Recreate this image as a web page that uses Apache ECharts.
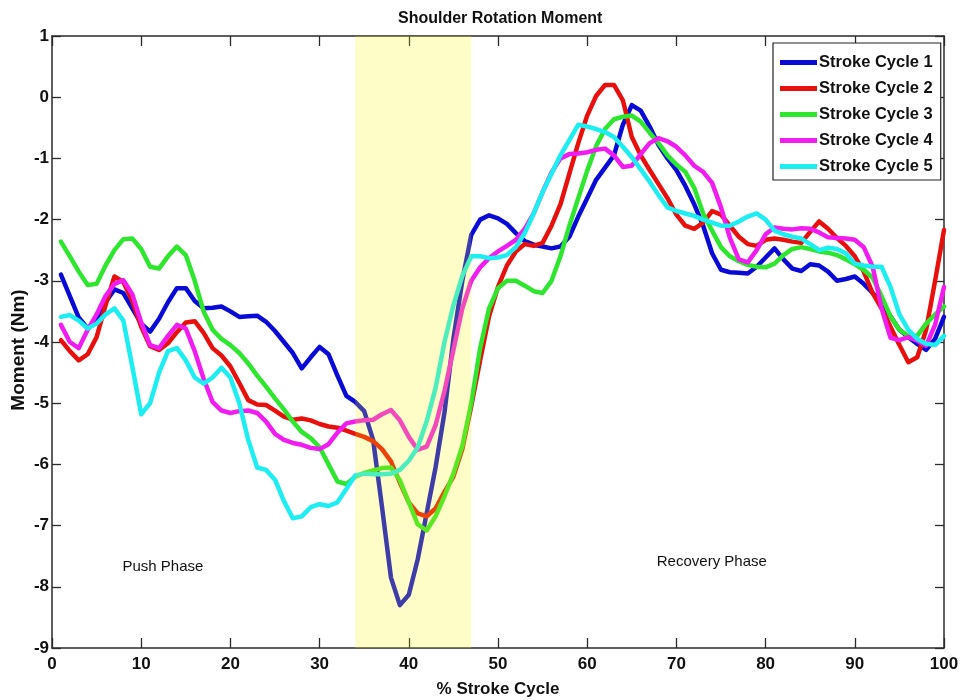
<!DOCTYPE html>
<html>
<head>
<meta charset="utf-8">
<script src="https://cdn.jsdelivr.net/npm/echarts@6/dist/echarts.min.js"></script>
<style>
  html, body { margin: 0; padding: 0; background: #fff; }
  #chart { width: 960px; height: 700px; }
</style>
</head>
<body>
<div id="chart"></div>
<script>
// Percent of stroke cycle sampled at each whole percent
const pctCycle = Array.from({ length: 100 }, (_, i) => i + 1);

const seriesNames = ['Stroke Cycle 1', 'Stroke Cycle 2', 'Stroke Cycle 3', 'Stroke Cycle 4', 'Stroke Cycle 5'];

// Shoulder rotation moment (Nm) per stroke cycle
const cycle1 = [
  -2.90, -3.25, -3.60, -3.78, -3.62, -3.35, -3.14, -3.20, -3.45, -3.70,
  -3.83, -3.62, -3.35, -3.12, -3.12, -3.33, -3.45, -3.44, -3.42, -3.50,
  -3.59, -3.58, -3.57, -3.67, -3.82, -4.00, -4.18, -4.43, -4.25, -4.08,
  -4.20, -4.55, -4.88, -4.98, -5.13, -5.60, -6.70, -7.85, -8.30, -8.13,
  -7.55, -6.80, -6.05, -5.15, -3.95, -3.00, -2.25, -2.00, -1.93, -1.98,
  -2.07, -2.22, -2.35, -2.41, -2.44, -2.47, -2.44, -2.28, -1.95, -1.65,
  -1.35, -1.15, -0.95, -0.45, -0.13, -0.22, -0.48, -0.78, -1.00, -1.19,
  -1.45, -1.75, -2.10, -2.55, -2.82, -2.86, -2.87, -2.88, -2.77, -2.62,
  -2.47, -2.65, -2.80, -2.84, -2.73, -2.75, -2.85, -3.00, -2.97, -2.93,
  -3.05, -3.20, -3.35, -3.58, -3.80, -3.92, -4.03, -4.13, -3.95, -3.59
];
const cycle2 = [
  -3.97, -4.15, -4.30, -4.20, -3.92, -3.40, -2.93, -3.02, -3.33, -3.75,
  -4.07, -4.13, -4.02, -3.84, -3.68, -3.66, -3.85, -4.10, -4.22, -4.40,
  -4.67, -4.95, -5.02, -5.03, -5.12, -5.22, -5.27, -5.25, -5.28, -5.34,
  -5.38, -5.40, -5.45, -5.50, -5.55, -5.62, -5.75, -5.95, -6.30, -6.62,
  -6.80, -6.85, -6.72, -6.45, -6.20, -5.75, -5.05, -4.30, -3.58, -3.10,
  -2.75, -2.52, -2.40, -2.43, -2.38, -2.10, -1.75, -1.25, -0.75, -0.30,
   0.02,  0.20,  0.20, -0.05, -0.65, -0.95, -1.19, -1.42, -1.65, -1.92,
  -2.10, -2.15, -2.05, -1.86, -1.92, -2.10, -2.28, -2.40, -2.43, -2.33,
  -2.31, -2.33, -2.36, -2.38, -2.20, -2.03, -2.15, -2.30, -2.43, -2.60,
  -2.85, -3.20, -3.45, -3.75, -4.05, -4.33, -4.25, -3.80, -3.00, -2.17
];
const cycle3 = [
  -2.36, -2.60, -2.85, -3.07, -3.05, -2.75, -2.50, -2.32, -2.31, -2.48,
  -2.77, -2.80, -2.60, -2.44, -2.58, -3.00, -3.50, -3.80, -3.95, -4.05,
  -4.18, -4.35, -4.55, -4.73, -4.92, -5.10, -5.30, -5.47, -5.57, -5.72,
  -6.00, -6.28, -6.32, -6.20, -6.14, -6.10, -6.06, -6.05, -6.26, -6.62,
  -6.98, -7.08, -6.85, -6.52, -6.15, -5.70, -5.00, -4.10, -3.45, -3.12,
  -3.00, -3.00, -3.08, -3.17, -3.20, -3.00, -2.60, -2.10, -1.65, -1.20,
  -0.80, -0.52, -0.36, -0.32, -0.30, -0.40, -0.58, -0.75, -0.95, -1.10,
  -1.22, -1.48, -1.90, -2.18, -2.45, -2.60, -2.68, -2.74, -2.77, -2.78,
  -2.72, -2.58, -2.48, -2.45, -2.48, -2.52, -2.54, -2.58, -2.65, -2.73,
  -2.82, -2.95, -3.25, -3.58, -3.80, -3.90, -3.90, -3.70, -3.55, -3.42
];
const cycle4 = [
  -3.72, -4.00, -4.10, -3.80, -3.55, -3.25, -3.05, -2.99, -3.22, -3.68,
  -4.05, -4.10, -3.90, -3.72, -3.78, -4.15, -4.60, -4.98, -5.12, -5.16,
  -5.13, -5.12, -5.16, -5.30, -5.50, -5.60, -5.65, -5.68, -5.73, -5.75,
  -5.67, -5.48, -5.33, -5.30, -5.28, -5.27, -5.18, -5.11, -5.28, -5.55,
  -5.76, -5.71, -5.36, -4.80, -4.13, -3.45, -3.00, -2.78, -2.63, -2.52,
  -2.43, -2.33, -2.15, -1.90, -1.55, -1.23, -1.00, -0.93, -0.92, -0.90,
  -0.86, -0.84, -0.95, -1.14, -1.12, -0.93, -0.75, -0.67, -0.72, -0.81,
  -0.95, -1.12, -1.22, -1.40, -1.80, -2.30, -2.65, -2.70, -2.50, -2.24,
  -2.13, -2.15, -2.16, -2.14, -2.15, -2.21, -2.29, -2.30, -2.31, -2.33,
  -2.45, -2.77, -3.45, -3.93, -3.97, -3.92, -3.98, -4.06, -3.72, -3.10
];
const cycle5 = [
  -3.59, -3.56, -3.65, -3.78, -3.70, -3.55, -3.45, -3.65, -4.40, -5.18,
  -5.00, -4.50, -4.15, -4.10, -4.30, -4.58, -4.68, -4.58, -4.42, -4.58,
  -5.00, -5.60, -6.05, -6.09, -6.25, -6.60, -6.88, -6.85, -6.70, -6.65,
  -6.68, -6.62, -6.40, -6.18, -6.15, -6.16, -6.16, -6.15, -6.09, -5.94,
  -5.72, -5.30, -4.75, -4.00, -3.40, -2.92, -2.60, -2.60, -2.63, -2.62,
  -2.58, -2.45, -2.22, -1.90, -1.55, -1.25, -0.95, -0.70, -0.45, -0.48,
  -0.52, -0.57, -0.65, -0.81, -0.98, -1.18, -1.38, -1.60, -1.80, -1.86,
  -1.90, -1.94, -2.00, -2.05, -2.10, -2.10, -2.03, -1.95, -1.90, -2.00,
  -2.18, -2.24, -2.28, -2.31, -2.40, -2.50, -2.46, -2.48, -2.55, -2.72,
  -2.75, -2.77, -2.77, -3.10, -3.55, -3.80, -3.95, -4.03, -4.05, -3.90
];
const cycleValues = [cycle1, cycle2, cycle3, cycle4, cycle5];
const cycleColors = ['#0a0ad6', '#e8100c', '#2ee62e', '#f01cf0', '#1ceef2'];

// Transition window between push and recovery (% stroke cycle)
const transitionStart = 34;
const transitionEnd = 47;

// Phase annotations
const phaseLabels = ['Push Phase', 'Recovery Phase'];
const phaseX = [7.9, 67.8];
const phaseY = [-7.67, -7.6];

const FONT = '"Liberation Sans", Arial, sans-serif';
const AXIS_COLOR = '#2a2a2a';

const chart = echarts.init(document.getElementById('chart'), null, { renderer: 'canvas' });

const lineSeries = seriesNames.map((name, k) => ({
  name: name,
  type: 'line',
  data: pctCycle.map((x, i) => [x, cycleValues[k][i]]),
  showSymbol: false,
  smooth: false,
  color: cycleColors[k],
  lineStyle: { width: 4.5, color: cycleColors[k], join: 'round', cap: 'round' },
  z: 2 + k,
  animation: false
}));

// Translucent band laid over the curves, plus phase captions
const overlaySeries = {
  name: 'transition',
  type: 'line',
  data: [],
  z: 20,
  silent: true,
  animation: false,
  markArea: {
    silent: true,
    z: 30,
    itemStyle: { color: 'rgba(250, 240, 0, 0.22)' },
    data: [[{ xAxis: transitionStart }, { xAxis: transitionEnd }]]
  },
  markPoint: {
    silent: true,
    symbol: 'circle',
    symbolSize: 0,
    label: {
      show: true,
      position: 'right',
      distance: 0,
      color: '#111',
      fontFamily: FONT,
      fontSize: 15,
      formatter: p => p.name
    },
    data: phaseLabels.map((t, i) => ({ name: t, coord: [phaseX[i], phaseY[i]] }))
  }
};

const option = {
  backgroundColor: '#ffffff',
  animation: false,
  title: {
    text: 'Shoulder Rotation Moment',
    left: 393,
    top: 6,
    textStyle: { fontFamily: FONT, fontWeight: 'bold', fontSize: 16, color: '#111' }
  },
  legend: {
    data: seriesNames,
    orient: 'vertical',
    left: 773,
    top: 43,
    padding: [11, 8, 5, 7],
    itemGap: 9,
    itemWidth: 37,
    itemHeight: 5,
    icon: 'rect',
    backgroundColor: '#fff',
    borderColor: '#222',
    borderWidth: 1.2,
    borderRadius: 0,
    selectedMode: false,
    textStyle: { fontFamily: FONT, fontWeight: 'bold', fontSize: 16.5, color: '#111', padding: [0, 0, 0, -3] }
  },
  grid: { left: 52, right: 16, top: 36, bottom: 52, containLabel: false, outerBoundsMode: 'none' },
  xAxis: [
    {
      type: 'value',
      min: 0, max: 100, interval: 10,
      name: '% Stroke Cycle',
      nameLocation: 'middle',
      nameGap: 33,
      nameMoveOverlap: false,
      nameTextStyle: { fontFamily: FONT, fontWeight: 'bold', fontSize: 17, color: '#111' },
      axisLine: { show: true, onZero: false, lineStyle: { color: AXIS_COLOR, width: 1.5 } },
      axisTick: { show: true, inside: true, length: 10, lineStyle: { color: AXIS_COLOR, width: 1.3 } },
      axisLabel: { fontFamily: FONT, fontWeight: 'bold', fontSize: 17, color: '#111', margin: 8 },
      splitLine: { show: false }
    },
    {
      type: 'value',
      position: 'top',
      min: 0, max: 100, interval: 10,
      axisLine: { show: true, onZero: false, lineStyle: { color: AXIS_COLOR, width: 1.5 } },
      axisTick: { show: true, inside: true, length: 10, lineStyle: { color: AXIS_COLOR, width: 1.3 } },
      axisLabel: { show: false },
      splitLine: { show: false }
    }
  ],
  yAxis: [
    {
      type: 'value',
      min: -9, max: 1, interval: 1,
      name: 'Moment (Nm)',
      nameLocation: 'middle',
      nameGap: 24,
      nameMoveOverlap: false,
      nameRotate: 90,
      nameTextStyle: { fontFamily: FONT, fontWeight: 'bold', fontSize: 19, color: '#111', padding: [0, 16, 0, 0] },
      axisLine: { show: true, onZero: false, lineStyle: { color: AXIS_COLOR, width: 1.5 } },
      axisTick: { show: true, inside: true, length: 9, lineStyle: { color: AXIS_COLOR, width: 1.3 } },
      axisLabel: { fontFamily: FONT, fontWeight: 'bold', fontSize: 17, color: '#111', margin: 3 },
      splitLine: { show: false }
    },
    {
      type: 'value',
      position: 'right',
      min: -9, max: 1, interval: 1,
      axisLine: { show: true, onZero: false, lineStyle: { color: AXIS_COLOR, width: 1.5 } },
      axisTick: { show: true, inside: true, length: 9, lineStyle: { color: AXIS_COLOR, width: 1.3 } },
      axisLabel: { show: false },
      splitLine: { show: false }
    }
  ],
  series: lineSeries.concat([overlaySeries])
};

chart.setOption(option);
</script>
</body>
</html>
